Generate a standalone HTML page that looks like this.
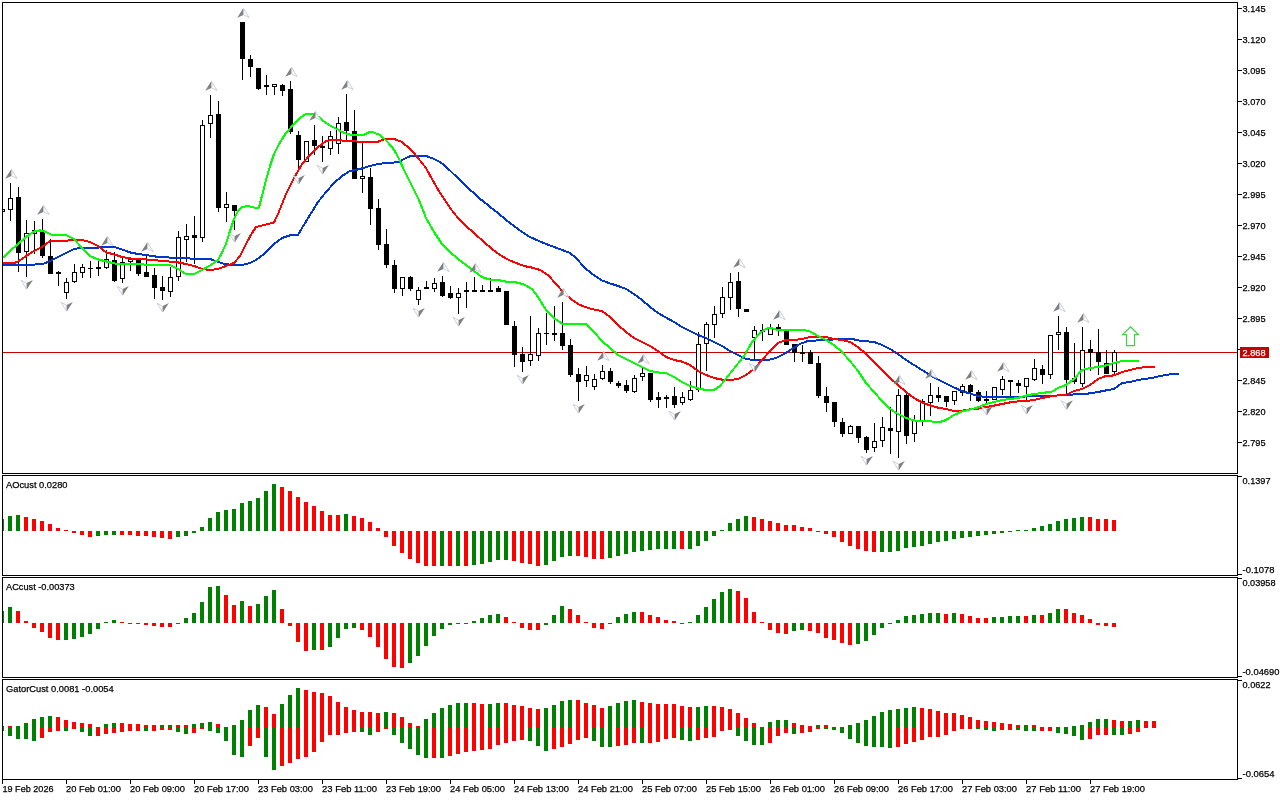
<!DOCTYPE html>
<html><head><meta charset="utf-8"><title>Chart</title>
<style>
html,body{margin:0;padding:0;background:#fff;overflow:hidden}
svg{display:block}
text{font-family:"Liberation Sans",sans-serif;font-size:9.8px;fill:#000;stroke:#000;stroke-width:0.25px}
.c{shape-rendering:crispEdges}
</style></head><body>
<svg width="1280" height="800" viewBox="0 0 1280 800">
<rect width="1280" height="800" fill="#fff"/>
<rect class="c" x="3" y="352" width="1234" height="1" fill="#c80000"/>
<g class="c" fill="#000">
<rect x="3" y="209" width="2" height="3"/><rect x="3" y="210" width="1" height="1" fill="#fff"/>
<rect x="10" y="183" width="1" height="38"/><rect x="8" y="198" width="5" height="12"/><rect x="9" y="199" width="3" height="10" fill="#fff"/>
<rect x="18" y="187" width="1" height="85"/><rect x="16" y="197" width="5" height="56"/>
<rect x="26" y="220" width="1" height="57"/><rect x="24" y="233" width="5" height="19"/><rect x="25" y="234" width="3" height="17" fill="#fff"/>
<rect x="34" y="221" width="1" height="33"/><rect x="32" y="230" width="5" height="4"/><rect x="33" y="231" width="3" height="2" fill="#fff"/>
<rect x="42" y="219" width="1" height="39"/><rect x="40" y="232" width="5" height="24"/>
<rect x="50" y="239" width="1" height="35"/><rect x="48" y="256" width="5" height="18"/>
<rect x="58" y="271" width="1" height="15"/><rect x="56" y="272" width="5" height="2"/>
<rect x="66" y="278" width="1" height="21"/><rect x="64" y="282" width="5" height="11"/><rect x="65" y="283" width="3" height="9" fill="#fff"/>
<rect x="74" y="264" width="1" height="19"/><rect x="72" y="272" width="5" height="10"/><rect x="73" y="273" width="3" height="8" fill="#fff"/>
<rect x="82" y="264" width="1" height="14"/><rect x="80" y="267" width="5" height="6"/><rect x="81" y="268" width="3" height="4" fill="#fff"/>
<rect x="90" y="261" width="1" height="17"/><rect x="88" y="268" width="5" height="1"/>
<rect x="98" y="260" width="1" height="16"/><rect x="96" y="267" width="5" height="2"/>
<rect x="106" y="250" width="1" height="19"/><rect x="104" y="259" width="5" height="9"/><rect x="105" y="260" width="3" height="7" fill="#fff"/>
<rect x="114" y="252" width="1" height="30"/><rect x="112" y="260" width="5" height="21"/>
<rect x="122" y="258" width="1" height="25"/><rect x="120" y="262" width="5" height="17"/><rect x="121" y="263" width="3" height="15" fill="#fff"/>
<rect x="130" y="258" width="1" height="13"/><rect x="128" y="259" width="5" height="3"/><rect x="129" y="260" width="3" height="1" fill="#fff"/>
<rect x="138" y="259" width="1" height="17"/><rect x="136" y="259" width="5" height="15"/>
<rect x="146" y="256" width="1" height="21"/><rect x="144" y="272" width="5" height="5"/>
<rect x="154" y="268" width="1" height="31"/><rect x="152" y="275" width="5" height="13"/>
<rect x="162" y="276" width="1" height="24"/><rect x="160" y="287" width="5" height="4"/>
<rect x="170" y="267" width="1" height="30"/><rect x="168" y="277" width="5" height="15"/><rect x="169" y="278" width="3" height="13" fill="#fff"/>
<rect x="178" y="231" width="1" height="50"/><rect x="176" y="237" width="5" height="40"/><rect x="177" y="238" width="3" height="38" fill="#fff"/>
<rect x="186" y="224" width="1" height="38"/><rect x="184" y="236" width="5" height="4"/><rect x="185" y="237" width="3" height="2" fill="#fff"/>
<rect x="194" y="216" width="1" height="48"/><rect x="192" y="235" width="5" height="3"/>
<rect x="202" y="120" width="1" height="122"/><rect x="200" y="125" width="5" height="113"/><rect x="201" y="126" width="3" height="111" fill="#fff"/>
<rect x="210" y="95" width="1" height="43"/><rect x="208" y="115" width="5" height="9"/><rect x="209" y="116" width="3" height="7" fill="#fff"/>
<rect x="218" y="101" width="1" height="111"/><rect x="216" y="114" width="5" height="94"/>
<rect x="226" y="192" width="1" height="30"/><rect x="224" y="204" width="5" height="4"/><rect x="225" y="205" width="3" height="2" fill="#fff"/>
<rect x="234" y="205" width="1" height="25"/><rect x="232" y="205" width="5" height="6"/>
<rect x="242" y="22" width="1" height="58"/><rect x="240" y="22" width="5" height="37"/>
<rect x="250" y="55" width="1" height="22"/><rect x="248" y="59" width="5" height="8"/>
<rect x="258" y="68" width="1" height="22"/><rect x="256" y="68" width="5" height="21"/>
<rect x="266" y="75" width="1" height="20"/><rect x="264" y="85" width="5" height="2"/>
<rect x="274" y="84" width="1" height="11"/><rect x="272" y="84" width="5" height="3"/><rect x="273" y="85" width="3" height="1" fill="#fff"/>
<rect x="282" y="84" width="1" height="12"/><rect x="280" y="85" width="5" height="6"/>
<rect x="290" y="81" width="1" height="53"/><rect x="288" y="89" width="5" height="43"/>
<rect x="298" y="131" width="1" height="41"/><rect x="296" y="135" width="5" height="25"/>
<rect x="306" y="141" width="1" height="21"/><rect x="304" y="141" width="5" height="21"/><rect x="305" y="142" width="3" height="19" fill="#fff"/>
<rect x="314" y="125" width="1" height="30"/><rect x="312" y="140" width="5" height="6"/>
<rect x="322" y="136" width="1" height="26"/><rect x="320" y="146" width="5" height="2"/>
<rect x="330" y="131" width="1" height="24"/><rect x="328" y="136" width="5" height="13"/><rect x="329" y="137" width="3" height="11" fill="#fff"/>
<rect x="338" y="117" width="1" height="37"/><rect x="336" y="123" width="5" height="21"/><rect x="337" y="124" width="3" height="19" fill="#fff"/>
<rect x="346" y="94" width="1" height="46"/><rect x="344" y="122" width="5" height="9"/>
<rect x="354" y="110" width="1" height="69"/><rect x="352" y="131" width="5" height="48"/>
<rect x="362" y="143" width="1" height="50"/><rect x="360" y="176" width="5" height="3"/><rect x="361" y="177" width="3" height="1" fill="#fff"/>
<rect x="370" y="168" width="1" height="57"/><rect x="368" y="177" width="5" height="32"/>
<rect x="378" y="199" width="1" height="51"/><rect x="376" y="208" width="5" height="37"/>
<rect x="386" y="229" width="1" height="39"/><rect x="384" y="244" width="5" height="21"/>
<rect x="394" y="260" width="1" height="33"/><rect x="392" y="265" width="5" height="24"/>
<rect x="402" y="277" width="1" height="19"/><rect x="400" y="277" width="5" height="12"/><rect x="401" y="278" width="3" height="10" fill="#fff"/>
<rect x="410" y="276" width="1" height="15"/><rect x="408" y="277" width="5" height="12"/>
<rect x="418" y="287" width="1" height="18"/><rect x="416" y="290" width="5" height="10"/><rect x="417" y="291" width="3" height="8" fill="#fff"/>
<rect x="426" y="281" width="1" height="8"/><rect x="424" y="287" width="5" height="2"/>
<rect x="434" y="278" width="1" height="14"/><rect x="432" y="283" width="5" height="6"/><rect x="433" y="284" width="3" height="4" fill="#fff"/>
<rect x="442" y="276" width="1" height="21"/><rect x="440" y="282" width="5" height="14"/>
<rect x="450" y="286" width="1" height="13"/><rect x="448" y="293" width="5" height="5"/>
<rect x="458" y="288" width="1" height="26"/><rect x="456" y="293" width="5" height="5"/><rect x="457" y="294" width="3" height="3" fill="#fff"/>
<rect x="466" y="282" width="1" height="26"/><rect x="464" y="290" width="5" height="2"/>
<rect x="474" y="277" width="1" height="15"/><rect x="472" y="290" width="5" height="2"/>
<rect x="482" y="285" width="1" height="7"/><rect x="480" y="290" width="5" height="2"/>
<rect x="490" y="278" width="1" height="14"/><rect x="488" y="290" width="5" height="2"/>
<rect x="498" y="286" width="1" height="6"/><rect x="496" y="288" width="5" height="4"/>
<rect x="506" y="291" width="1" height="34"/><rect x="504" y="291" width="5" height="34"/>
<rect x="514" y="321" width="1" height="46"/><rect x="512" y="326" width="5" height="29"/>
<rect x="522" y="347" width="1" height="25"/><rect x="520" y="354" width="5" height="8"/>
<rect x="530" y="316" width="1" height="50"/><rect x="528" y="354" width="5" height="7"/><rect x="529" y="355" width="3" height="5" fill="#fff"/>
<rect x="538" y="328" width="1" height="33"/><rect x="536" y="333" width="5" height="23"/><rect x="537" y="334" width="3" height="21" fill="#fff"/>
<rect x="546" y="313" width="1" height="32"/><rect x="544" y="333" width="5" height="1"/>
<rect x="554" y="306" width="1" height="35"/><rect x="552" y="333" width="5" height="2"/>
<rect x="562" y="302" width="1" height="48"/><rect x="560" y="333" width="5" height="13"/>
<rect x="570" y="339" width="1" height="38"/><rect x="568" y="345" width="5" height="30"/>
<rect x="578" y="368" width="1" height="33"/><rect x="576" y="374" width="5" height="8"/>
<rect x="586" y="366" width="1" height="21"/><rect x="584" y="375" width="5" height="6"/><rect x="585" y="376" width="3" height="4" fill="#fff"/>
<rect x="594" y="374" width="1" height="16"/><rect x="592" y="379" width="5" height="8"/><rect x="593" y="380" width="3" height="6" fill="#fff"/>
<rect x="602" y="365" width="1" height="15"/><rect x="600" y="371" width="5" height="8"/><rect x="601" y="372" width="3" height="6" fill="#fff"/>
<rect x="610" y="368" width="1" height="16"/><rect x="608" y="371" width="5" height="11"/>
<rect x="618" y="381" width="1" height="7"/><rect x="616" y="383" width="5" height="3"/>
<rect x="626" y="380" width="1" height="13"/><rect x="624" y="385" width="5" height="6"/>
<rect x="634" y="375" width="1" height="18"/><rect x="632" y="378" width="5" height="14"/><rect x="633" y="379" width="3" height="12" fill="#fff"/>
<rect x="642" y="368" width="1" height="13"/><rect x="640" y="373" width="5" height="4"/><rect x="641" y="374" width="3" height="2" fill="#fff"/>
<rect x="650" y="373" width="1" height="29"/><rect x="648" y="373" width="5" height="27"/>
<rect x="658" y="392" width="1" height="16"/><rect x="656" y="397" width="5" height="3"/>
<rect x="666" y="395" width="1" height="13"/><rect x="664" y="397" width="5" height="2"/>
<rect x="674" y="387" width="1" height="21"/><rect x="672" y="396" width="5" height="9"/>
<rect x="682" y="392" width="1" height="13"/><rect x="680" y="397" width="5" height="6"/><rect x="681" y="398" width="3" height="4" fill="#fff"/>
<rect x="690" y="381" width="1" height="20"/><rect x="688" y="390" width="5" height="10"/><rect x="689" y="391" width="3" height="8" fill="#fff"/>
<rect x="698" y="332" width="1" height="60"/><rect x="696" y="344" width="5" height="46"/><rect x="697" y="345" width="3" height="44" fill="#fff"/>
<rect x="706" y="322" width="1" height="49"/><rect x="704" y="324" width="5" height="20"/><rect x="705" y="325" width="3" height="18" fill="#fff"/>
<rect x="714" y="306" width="1" height="32"/><rect x="712" y="314" width="5" height="11"/><rect x="713" y="315" width="3" height="9" fill="#fff"/>
<rect x="722" y="287" width="1" height="31"/><rect x="720" y="297" width="5" height="17"/><rect x="721" y="298" width="3" height="15" fill="#fff"/>
<rect x="730" y="273" width="1" height="37"/><rect x="728" y="282" width="5" height="16"/><rect x="729" y="283" width="3" height="14" fill="#fff"/>
<rect x="738" y="272" width="1" height="45"/><rect x="736" y="281" width="5" height="28"/>
<rect x="746" y="309" width="1" height="3"/><rect x="744" y="309" width="5" height="3"/>
<rect x="754" y="326" width="1" height="34"/><rect x="752" y="330" width="5" height="8"/><rect x="753" y="331" width="3" height="6" fill="#fff"/>
<rect x="762" y="324" width="1" height="17"/><rect x="760" y="330" width="5" height="2"/>
<rect x="770" y="324" width="1" height="11"/><rect x="768" y="327" width="5" height="8"/><rect x="769" y="328" width="3" height="6" fill="#fff"/>
<rect x="778" y="324" width="1" height="12"/><rect x="776" y="327" width="5" height="3"/>
<rect x="786" y="330" width="1" height="15"/><rect x="784" y="330" width="5" height="15"/>
<rect x="794" y="344" width="1" height="18"/><rect x="792" y="344" width="5" height="9"/>
<rect x="802" y="345" width="1" height="17"/><rect x="800" y="352" width="5" height="2"/>
<rect x="810" y="350" width="1" height="14"/><rect x="808" y="352" width="5" height="12"/>
<rect x="818" y="356" width="1" height="42"/><rect x="816" y="363" width="5" height="33"/>
<rect x="826" y="387" width="1" height="25"/><rect x="824" y="396" width="5" height="7"/>
<rect x="834" y="402" width="1" height="25"/><rect x="832" y="402" width="5" height="20"/>
<rect x="842" y="418" width="1" height="19"/><rect x="840" y="422" width="5" height="12"/>
<rect x="850" y="425" width="1" height="9"/><rect x="848" y="426" width="5" height="8"/><rect x="849" y="427" width="3" height="6" fill="#fff"/>
<rect x="858" y="426" width="1" height="17"/><rect x="856" y="426" width="5" height="12"/>
<rect x="866" y="436" width="1" height="17"/><rect x="864" y="437" width="5" height="13"/>
<rect x="874" y="423" width="1" height="29"/><rect x="872" y="441" width="5" height="7"/><rect x="873" y="442" width="3" height="5" fill="#fff"/>
<rect x="882" y="417" width="1" height="30"/><rect x="880" y="427" width="5" height="14"/><rect x="881" y="428" width="3" height="12" fill="#fff"/>
<rect x="890" y="407" width="1" height="47"/><rect x="888" y="428" width="5" height="3"/>
<rect x="898" y="389" width="1" height="69"/><rect x="896" y="395" width="5" height="37"/><rect x="897" y="396" width="3" height="35" fill="#fff"/>
<rect x="906" y="393" width="1" height="51"/><rect x="904" y="395" width="5" height="41"/>
<rect x="914" y="415" width="1" height="27"/><rect x="912" y="420" width="5" height="14"/><rect x="913" y="421" width="3" height="12" fill="#fff"/>
<rect x="922" y="399" width="1" height="27"/><rect x="920" y="401" width="5" height="20"/><rect x="921" y="402" width="3" height="18" fill="#fff"/>
<rect x="930" y="383" width="1" height="33"/><rect x="928" y="395" width="5" height="8"/><rect x="929" y="396" width="3" height="6" fill="#fff"/>
<rect x="938" y="387" width="1" height="15"/><rect x="936" y="395" width="5" height="3"/>
<rect x="946" y="396" width="1" height="11"/><rect x="944" y="396" width="5" height="6"/>
<rect x="954" y="391" width="1" height="14"/><rect x="952" y="391" width="5" height="10"/><rect x="953" y="392" width="3" height="8" fill="#fff"/>
<rect x="962" y="384" width="1" height="12"/><rect x="960" y="386" width="5" height="7"/><rect x="961" y="387" width="3" height="5" fill="#fff"/>
<rect x="970" y="384" width="1" height="17"/><rect x="968" y="385" width="5" height="7"/>
<rect x="978" y="390" width="1" height="12"/><rect x="976" y="392" width="5" height="9"/>
<rect x="986" y="391" width="1" height="12"/><rect x="984" y="399" width="5" height="2"/>
<rect x="994" y="387" width="1" height="13"/><rect x="992" y="387" width="5" height="13"/><rect x="993" y="388" width="3" height="11" fill="#fff"/>
<rect x="1002" y="376" width="1" height="19"/><rect x="1000" y="379" width="5" height="11"/><rect x="1001" y="380" width="3" height="9" fill="#fff"/>
<rect x="1010" y="380" width="1" height="17"/><rect x="1008" y="380" width="5" height="2"/>
<rect x="1018" y="380" width="1" height="13"/><rect x="1016" y="383" width="5" height="3"/>
<rect x="1026" y="378" width="1" height="24"/><rect x="1024" y="378" width="5" height="9"/><rect x="1025" y="379" width="3" height="7" fill="#fff"/>
<rect x="1034" y="359" width="1" height="22"/><rect x="1032" y="368" width="5" height="12"/><rect x="1033" y="369" width="3" height="10" fill="#fff"/>
<rect x="1042" y="365" width="1" height="19"/><rect x="1040" y="369" width="5" height="6"/>
<rect x="1050" y="335" width="1" height="44"/><rect x="1048" y="335" width="5" height="40"/><rect x="1049" y="336" width="3" height="38" fill="#fff"/>
<rect x="1058" y="316" width="1" height="34"/><rect x="1056" y="332" width="5" height="3"/><rect x="1057" y="333" width="3" height="1" fill="#fff"/>
<rect x="1066" y="327" width="1" height="69"/><rect x="1064" y="332" width="5" height="48"/>
<rect x="1074" y="343" width="1" height="41"/><rect x="1072" y="378" width="5" height="4"/>
<rect x="1082" y="327" width="1" height="60"/><rect x="1080" y="350" width="5" height="34"/><rect x="1081" y="351" width="3" height="32" fill="#fff"/>
<rect x="1090" y="340" width="1" height="31"/><rect x="1088" y="349" width="5" height="4"/>
<rect x="1098" y="329" width="1" height="46"/><rect x="1096" y="352" width="5" height="10"/>
<rect x="1106" y="350" width="1" height="24"/><rect x="1104" y="363" width="5" height="11"/>
<rect x="1114" y="350" width="1" height="24"/><rect x="1112" y="352" width="5" height="20"/><rect x="1113" y="353" width="3" height="18" fill="#fff"/>
</g>
<polyline points="3.0,265.0 42.0,264.4 50.0,261.0 58.0,257.0 66.0,253.0 74.0,249.0 80.0,248.0 96.0,247.6 114.0,247.0 122.0,249.4 130.0,252.4 138.0,254.0 146.0,255.0 154.0,256.4 170.0,257.6 186.0,258.4 210.0,259.0 218.0,262.0 226.0,264.4 242.0,265.0 250.0,263.0 256.0,260.0 264.0,254.0 274.0,244.0 282.0,238.0 290.0,235.4 298.0,235.0 302.0,228.0 310.0,215.0 318.0,202.0 326.0,192.0 334.0,183.0 342.0,176.0 350.0,171.0 360.0,169.0 364.0,167.8 370.0,166.0 378.0,164.0 386.0,163.0 394.0,162.5 400.0,161.5 404.0,159.0 408.0,157.0 411.0,156.0 426.0,156.0 430.0,157.5 434.0,159.0 438.0,161.0 442.0,163.5 446.0,167.0 450.0,170.5 454.0,174.5 458.0,178.0 462.0,182.0 466.0,186.0 470.0,190.0 474.0,193.0 478.0,197.0 481.0,200.0 482.0,200.0 490.0,207.0 498.0,213.0 506.0,220.0 514.0,226.0 522.0,232.0 530.0,237.0 538.0,240.6 546.0,244.0 554.0,247.0 562.0,250.0 570.0,253.0 576.0,258.0 584.0,267.0 592.0,274.0 602.0,280.4 610.0,283.4 618.0,286.0 626.0,289.0 634.0,294.0 642.0,300.0 650.0,307.0 658.0,313.0 666.0,317.6 674.0,322.0 682.0,327.0 690.0,331.0 698.0,335.0 706.0,338.0 714.0,342.0 722.0,346.0 730.0,351.0 738.0,355.0 746.0,359.0 754.0,360.0 768.0,360.0 776.0,358.0 784.0,354.0 792.0,349.0 800.0,344.0 808.0,341.0 818.0,340.4 826.0,340.0 834.0,339.4 854.0,339.4 858.0,340.4 874.0,342.0 882.0,345.0 890.0,349.0 898.0,354.0 906.0,360.0 914.0,365.0 922.0,370.0 930.0,375.0 938.0,379.4 946.0,383.4 954.0,387.4 962.0,391.0 970.0,393.6 978.0,396.0 986.0,397.0 1002.0,397.0 1018.0,397.0 1026.0,396.4 1042.0,396.0 1050.0,395.6 1066.0,395.4 1074.0,394.4 1082.0,394.0 1090.0,393.4 1098.0,392.0 1106.0,390.4 1114.0,389.0 1122.0,383.0 1130.0,382.0 1138.0,380.0 1146.0,378.8 1152.0,378.0 1156.0,377.0 1160.0,376.0 1166.0,375.0 1172.0,374.0 1179.0,374.0" fill="none" stroke="#0036cc" stroke-width="2" stroke-linejoin="round" class="c"/>
<polyline points="3.0,263.4 14.0,263.0 18.0,261.6 26.0,256.0 34.0,251.0 42.0,247.0 50.0,241.0 66.0,240.6 82.0,240.0 90.0,242.0 98.0,246.0 106.0,252.4 114.0,254.4 122.0,257.0 130.0,258.4 138.0,259.0 146.0,259.4 154.0,260.0 162.0,261.0 170.0,261.6 178.0,262.4 186.0,264.0 194.0,266.0 202.0,269.0 210.0,270.0 218.0,269.0 226.0,266.0 234.0,263.0 240.0,256.0 246.0,244.0 252.0,233.0 256.0,227.0 274.0,222.4 278.0,214.0 286.0,194.0 294.0,178.0 302.0,164.0 310.0,155.0 318.0,147.0 326.0,141.0 332.0,140.0 352.0,141.0 360.0,141.8 378.0,141.8 382.0,140.0 386.0,139.0 394.0,139.0 398.0,140.5 402.0,142.0 406.0,145.5 410.0,149.0 414.0,153.0 418.0,158.0 422.0,163.0 426.0,168.0 430.0,175.5 434.0,182.5 438.0,189.5 442.0,196.0 445.0,200.0 450.0,208.0 458.0,218.0 466.0,226.0 474.0,233.0 484.0,242.0 492.0,249.0 500.0,255.0 508.0,259.6 516.0,263.0 524.0,266.0 532.0,267.6 540.0,270.0 548.0,275.0 556.0,284.0 564.0,293.0 572.0,300.0 580.0,305.0 588.0,308.0 596.0,310.0 602.0,311.0 610.0,317.0 618.0,325.0 626.0,332.0 634.0,338.0 642.0,342.0 650.0,346.0 658.0,351.0 666.0,357.0 674.0,360.0 682.0,361.6 690.0,365.0 698.0,371.0 706.0,375.0 714.0,378.0 722.0,379.6 730.0,380.0 738.0,379.0 746.0,375.0 754.0,369.0 762.0,360.0 770.0,351.0 778.0,343.0 786.0,340.0 794.0,340.0 802.0,339.0 810.0,337.0 818.0,336.6 826.0,337.0 834.0,339.0 842.0,340.0 850.0,342.0 858.0,347.0 866.0,354.0 874.0,362.0 882.0,370.0 890.0,378.0 898.0,385.0 906.0,392.0 914.0,398.0 922.0,402.4 930.0,405.4 938.0,407.6 946.0,409.0 954.0,411.0 962.0,410.6 970.0,409.4 978.0,408.6 986.0,407.0 994.0,405.6 1002.0,404.0 1010.0,402.4 1018.0,401.4 1026.0,401.0 1034.0,400.0 1042.0,398.0 1050.0,396.4 1058.0,395.4 1066.0,395.0 1074.0,391.0 1082.0,389.0 1090.0,385.0 1098.0,379.0 1106.0,376.0 1114.0,375.4 1122.0,372.0 1130.0,370.0 1138.0,368.0 1146.0,367.0 1155.0,366.6" fill="none" stroke="#ff0000" stroke-width="2" stroke-linejoin="round" class="c"/>
<polyline points="3.0,258.0 10.0,251.0 18.0,244.0 26.0,237.0 34.0,231.6 40.0,230.4 45.0,231.6 51.0,234.6 66.0,235.0 74.0,239.0 82.0,248.0 90.0,256.0 98.0,259.4 106.0,261.4 114.0,263.4 122.0,264.0 138.0,264.4 170.0,265.0 178.0,269.0 186.0,274.0 194.0,274.0 202.0,270.0 210.0,265.5 218.0,260.0 222.0,252.5 226.0,244.0 230.0,231.0 234.0,219.0 238.0,211.0 242.0,207.0 248.0,206.0 256.0,208.0 259.0,207.6 266.0,180.0 270.0,166.0 274.0,154.0 278.0,146.0 282.0,139.0 286.0,133.0 290.0,128.5 294.0,124.0 298.0,120.0 302.0,116.5 306.0,113.8 314.0,113.5 318.0,116.5 322.0,120.0 326.0,123.0 330.0,125.5 334.0,127.5 338.0,129.5 342.0,132.0 346.0,133.5 350.0,134.5 355.0,135.0 360.0,135.0 364.0,135.0 367.0,133.0 370.0,132.0 373.0,132.0 376.0,133.5 380.0,135.0 384.0,138.5 388.0,142.5 392.0,147.0 396.0,153.0 400.0,161.0 404.0,170.0 408.0,178.0 412.0,186.0 416.0,194.0 419.0,200.0 426.0,218.0 434.0,232.0 442.0,244.0 450.0,252.0 458.0,259.0 466.0,265.0 474.0,271.0 482.0,277.0 490.0,279.6 498.0,280.0 506.0,281.6 516.0,282.4 524.0,284.4 532.0,289.0 538.0,297.0 546.0,310.0 554.0,318.0 562.0,323.6 566.0,324.0 586.0,324.0 594.0,332.0 602.0,341.0 610.0,348.0 618.0,355.0 626.0,359.0 634.0,363.0 642.0,367.0 650.0,371.0 658.0,372.4 666.0,373.0 674.0,377.0 682.0,382.0 690.0,386.0 698.0,388.4 706.0,390.0 714.0,390.0 720.0,386.0 728.0,376.0 736.0,366.0 744.0,356.0 752.0,342.0 760.0,333.0 764.0,330.0 768.0,328.2 772.0,328.0 775.0,329.2 778.0,330.0 802.0,330.0 806.0,330.5 810.0,331.5 818.0,336.0 826.0,340.0 834.0,345.0 842.0,352.0 850.0,361.0 858.0,371.0 866.0,383.0 874.0,392.0 882.0,401.0 890.0,409.0 898.0,414.0 906.0,418.0 914.0,420.4 922.0,421.0 930.0,421.4 940.0,422.0 946.0,420.0 954.0,415.0 962.0,411.4 970.0,409.6 978.0,407.4 986.0,404.0 994.0,402.0 1002.0,400.0 1010.0,399.0 1018.0,398.0 1026.0,395.6 1034.0,394.0 1042.0,393.0 1052.0,391.6 1058.0,388.0 1066.0,385.0 1074.0,379.0 1082.0,370.0 1090.0,368.0 1098.0,367.0 1106.0,365.4 1114.0,363.0 1122.0,361.0 1139.0,361.0" fill="none" stroke="#00ff00" stroke-width="2" stroke-linejoin="round" class="c"/>
<g>
<path d="M11.4,169.1 L5.2,178.8 L11.4,176.0 Z" fill="#808080"/><path d="M11.7,169.7 L17.1,178.5 L11.7,176.0 Z" fill="#fdfdfd" stroke="#b8bcc8" stroke-width="0.7"/>
<path d="M43.4,205.1 L37.2,214.8 L43.4,212.0 Z" fill="#808080"/><path d="M43.7,205.7 L49.1,214.5 L43.7,212.0 Z" fill="#fdfdfd" stroke="#b8bcc8" stroke-width="0.7"/>
<path d="M107.4,236.1 L101.2,245.8 L107.4,243.0 Z" fill="#808080"/><path d="M107.7,236.7 L113.1,245.5 L107.7,243.0 Z" fill="#fdfdfd" stroke="#b8bcc8" stroke-width="0.7"/>
<path d="M147.4,242.1 L141.2,251.8 L147.4,249.0 Z" fill="#808080"/><path d="M147.7,242.7 L153.1,251.5 L147.7,249.0 Z" fill="#fdfdfd" stroke="#b8bcc8" stroke-width="0.7"/>
<path d="M211.4,81.1 L205.2,90.8 L211.4,88.0 Z" fill="#808080"/><path d="M211.7,81.7 L217.1,90.5 L211.7,88.0 Z" fill="#fdfdfd" stroke="#b8bcc8" stroke-width="0.7"/>
<path d="M243.4,8.1 L237.2,17.8 L243.4,15.0 Z" fill="#808080"/><path d="M243.7,8.7 L249.1,17.5 L243.7,15.0 Z" fill="#fdfdfd" stroke="#b8bcc8" stroke-width="0.7"/>
<path d="M291.4,67.1 L285.2,76.8 L291.4,74.0 Z" fill="#808080"/><path d="M291.7,67.7 L297.1,76.5 L291.7,74.0 Z" fill="#fdfdfd" stroke="#b8bcc8" stroke-width="0.7"/>
<path d="M315.4,111.1 L309.2,120.8 L315.4,118.0 Z" fill="#808080"/><path d="M315.7,111.7 L321.1,120.5 L315.7,118.0 Z" fill="#fdfdfd" stroke="#b8bcc8" stroke-width="0.7"/>
<path d="M347.4,80.1 L341.2,89.8 L347.4,87.0 Z" fill="#808080"/><path d="M347.7,80.7 L353.1,89.5 L347.7,87.0 Z" fill="#fdfdfd" stroke="#b8bcc8" stroke-width="0.7"/>
<path d="M443.4,262.1 L437.2,271.8 L443.4,269.0 Z" fill="#808080"/><path d="M443.7,262.7 L449.1,271.5 L443.7,269.0 Z" fill="#fdfdfd" stroke="#b8bcc8" stroke-width="0.7"/>
<path d="M475.4,263.1 L469.2,272.8 L475.4,270.0 Z" fill="#808080"/><path d="M475.7,263.7 L481.1,272.5 L475.7,270.0 Z" fill="#fdfdfd" stroke="#b8bcc8" stroke-width="0.7"/>
<path d="M563.4,288.1 L557.2,297.8 L563.4,295.0 Z" fill="#808080"/><path d="M563.7,288.7 L569.1,297.5 L563.7,295.0 Z" fill="#fdfdfd" stroke="#b8bcc8" stroke-width="0.7"/>
<path d="M603.4,351.1 L597.2,360.8 L603.4,358.0 Z" fill="#808080"/><path d="M603.7,351.7 L609.1,360.5 L603.7,358.0 Z" fill="#fdfdfd" stroke="#b8bcc8" stroke-width="0.7"/>
<path d="M643.4,354.1 L637.2,363.8 L643.4,361.0 Z" fill="#808080"/><path d="M643.7,354.7 L649.1,363.5 L643.7,361.0 Z" fill="#fdfdfd" stroke="#b8bcc8" stroke-width="0.7"/>
<path d="M739.4,258.1 L733.2,267.8 L739.4,265.0 Z" fill="#808080"/><path d="M739.7,258.7 L745.1,267.5 L739.7,265.0 Z" fill="#fdfdfd" stroke="#b8bcc8" stroke-width="0.7"/>
<path d="M779.4,310.1 L773.2,319.8 L779.4,317.0 Z" fill="#808080"/><path d="M779.7,310.7 L785.1,319.5 L779.7,317.0 Z" fill="#fdfdfd" stroke="#b8bcc8" stroke-width="0.7"/>
<path d="M899.4,375.1 L893.2,384.8 L899.4,382.0 Z" fill="#808080"/><path d="M899.7,375.7 L905.1,384.5 L899.7,382.0 Z" fill="#fdfdfd" stroke="#b8bcc8" stroke-width="0.7"/>
<path d="M931.4,369.1 L925.2,378.8 L931.4,376.0 Z" fill="#808080"/><path d="M931.7,369.7 L937.1,378.5 L931.7,376.0 Z" fill="#fdfdfd" stroke="#b8bcc8" stroke-width="0.7"/>
<path d="M971.4,370.1 L965.2,379.8 L971.4,377.0 Z" fill="#808080"/><path d="M971.7,370.7 L977.1,379.5 L971.7,377.0 Z" fill="#fdfdfd" stroke="#b8bcc8" stroke-width="0.7"/>
<path d="M1003.4,362.1 L997.2,371.8 L1003.4,369.0 Z" fill="#808080"/><path d="M1003.7,362.7 L1009.1,371.5 L1003.7,369.0 Z" fill="#fdfdfd" stroke="#b8bcc8" stroke-width="0.7"/>
<path d="M1059.4,302.1 L1053.2,311.8 L1059.4,309.0 Z" fill="#808080"/><path d="M1059.7,302.7 L1065.1,311.5 L1059.7,309.0 Z" fill="#fdfdfd" stroke="#b8bcc8" stroke-width="0.7"/>
<path d="M1083.4,313.1 L1077.2,322.8 L1083.4,320.0 Z" fill="#808080"/><path d="M1083.7,313.7 L1089.1,322.5 L1083.7,320.0 Z" fill="#fdfdfd" stroke="#b8bcc8" stroke-width="0.7"/>
<path d="M26.7,289.6 L32.9,279.9 L26.7,283.0 Z" fill="#808080"/><path d="M26.4,289.0 L21.1,280.3 L26.4,283.0 Z" fill="#fdfdfd" stroke="#b8bcc8" stroke-width="0.7"/>
<path d="M66.7,311.6 L72.9,301.9 L66.7,305.0 Z" fill="#808080"/><path d="M66.4,311.0 L61.1,302.3 L66.4,305.0 Z" fill="#fdfdfd" stroke="#b8bcc8" stroke-width="0.7"/>
<path d="M122.7,295.6 L128.9,285.9 L122.7,289.0 Z" fill="#808080"/><path d="M122.4,295.0 L117.1,286.3 L122.4,289.0 Z" fill="#fdfdfd" stroke="#b8bcc8" stroke-width="0.7"/>
<path d="M162.7,312.6 L168.9,302.9 L162.7,306.0 Z" fill="#808080"/><path d="M162.4,312.0 L157.1,303.3 L162.4,306.0 Z" fill="#fdfdfd" stroke="#b8bcc8" stroke-width="0.7"/>
<path d="M234.7,242.6 L240.9,232.9 L234.7,236.0 Z" fill="#808080"/><path d="M234.4,242.0 L229.1,233.3 L234.4,236.0 Z" fill="#fdfdfd" stroke="#b8bcc8" stroke-width="0.7"/>
<path d="M298.7,184.6 L304.9,174.9 L298.7,178.0 Z" fill="#808080"/><path d="M298.4,184.0 L293.1,175.3 L298.4,178.0 Z" fill="#fdfdfd" stroke="#b8bcc8" stroke-width="0.7"/>
<path d="M322.7,174.6 L328.9,164.9 L322.7,168.0 Z" fill="#808080"/><path d="M322.4,174.0 L317.1,165.3 L322.4,168.0 Z" fill="#fdfdfd" stroke="#b8bcc8" stroke-width="0.7"/>
<path d="M418.7,317.6 L424.9,307.9 L418.7,311.0 Z" fill="#808080"/><path d="M418.4,317.0 L413.1,308.3 L418.4,311.0 Z" fill="#fdfdfd" stroke="#b8bcc8" stroke-width="0.7"/>
<path d="M458.7,326.6 L464.9,316.9 L458.7,320.0 Z" fill="#808080"/><path d="M458.4,326.0 L453.1,317.3 L458.4,320.0 Z" fill="#fdfdfd" stroke="#b8bcc8" stroke-width="0.7"/>
<path d="M522.7,384.6 L528.9,374.9 L522.7,378.0 Z" fill="#808080"/><path d="M522.4,384.0 L517.1,375.3 L522.4,378.0 Z" fill="#fdfdfd" stroke="#b8bcc8" stroke-width="0.7"/>
<path d="M578.7,413.6 L584.9,403.9 L578.7,407.0 Z" fill="#808080"/><path d="M578.4,413.0 L573.1,404.3 L578.4,407.0 Z" fill="#fdfdfd" stroke="#b8bcc8" stroke-width="0.7"/>
<path d="M674.7,420.6 L680.9,410.9 L674.7,414.0 Z" fill="#808080"/><path d="M674.4,420.0 L669.1,411.3 L674.4,414.0 Z" fill="#fdfdfd" stroke="#b8bcc8" stroke-width="0.7"/>
<path d="M754.7,372.6 L760.9,362.9 L754.7,366.0 Z" fill="#808080"/><path d="M754.4,372.0 L749.1,363.3 L754.4,366.0 Z" fill="#fdfdfd" stroke="#b8bcc8" stroke-width="0.7"/>
<path d="M866.7,465.6 L872.9,455.9 L866.7,459.0 Z" fill="#808080"/><path d="M866.4,465.0 L861.1,456.3 L866.4,459.0 Z" fill="#fdfdfd" stroke="#b8bcc8" stroke-width="0.7"/>
<path d="M898.7,470.6 L904.9,460.9 L898.7,464.0 Z" fill="#808080"/><path d="M898.4,470.0 L893.1,461.3 L898.4,464.0 Z" fill="#fdfdfd" stroke="#b8bcc8" stroke-width="0.7"/>
<path d="M986.7,415.6 L992.9,405.9 L986.7,409.0 Z" fill="#808080"/><path d="M986.4,415.0 L981.1,406.3 L986.4,409.0 Z" fill="#fdfdfd" stroke="#b8bcc8" stroke-width="0.7"/>
<path d="M1026.7,414.6 L1032.9,404.9 L1026.7,408.0 Z" fill="#808080"/><path d="M1026.4,414.0 L1021.1,405.3 L1026.4,408.0 Z" fill="#fdfdfd" stroke="#b8bcc8" stroke-width="0.7"/>
<path d="M1066.7,410.0 L1072.9,400.3 L1066.7,403.4 Z" fill="#808080"/><path d="M1066.4,409.4 L1061.1,400.7 L1066.4,403.4 Z" fill="#fdfdfd" stroke="#b8bcc8" stroke-width="0.7"/>
</g>
<path d="M1130.5,326.8 L1138.4,334.5 L1134.5,334.5 L1134.5,345.5 L1126.5,345.5 L1126.5,334.5 L1122.6,334.5 Z" fill="none" stroke="#40d240" stroke-width="1.25"/>
<g class="c" fill="#000">
<rect x="2" y="2" width="1236" height="1"/><rect x="2" y="473" width="1236" height="1"/><rect x="2" y="2" width="1" height="472"/><rect x="1237" y="2" width="1" height="472"/>
<rect x="2" y="475" width="1236" height="1"/><rect x="2" y="575" width="1236" height="1"/><rect x="2" y="475" width="1" height="101"/><rect x="1237" y="475" width="1" height="101"/>
<rect x="2" y="577" width="1236" height="1"/><rect x="2" y="677" width="1236" height="1"/><rect x="2" y="577" width="1" height="101"/><rect x="1237" y="577" width="1" height="101"/>
<rect x="2" y="679" width="1236" height="1"/><rect x="2" y="779" width="1236" height="1"/><rect x="2" y="679" width="1" height="101"/><rect x="1237" y="679" width="1" height="101"/>
<rect x="1238" y="8" width="4" height="1"/><rect x="1238" y="39" width="4" height="1"/><rect x="1238" y="70" width="4" height="1"/><rect x="1238" y="101" width="4" height="1"/><rect x="1238" y="132" width="4" height="1"/><rect x="1238" y="163" width="4" height="1"/><rect x="1238" y="194" width="4" height="1"/><rect x="1238" y="225" width="4" height="1"/><rect x="1238" y="256" width="4" height="1"/><rect x="1238" y="287" width="4" height="1"/><rect x="1238" y="318" width="4" height="1"/><rect x="1238" y="349" width="4" height="1"/><rect x="1238" y="380" width="4" height="1"/><rect x="1238" y="411" width="4" height="1"/><rect x="1238" y="442" width="4" height="1"/><rect x="1238" y="476" width="4" height="1"/><rect x="1238" y="574" width="4" height="1"/><rect x="1238" y="578" width="4" height="1"/><rect x="1238" y="676" width="4" height="1"/><rect x="1238" y="680" width="4" height="1"/><rect x="1238" y="778" width="4" height="1"/><rect x="2" y="780" width="1" height="4"/><rect x="66" y="780" width="1" height="4"/><rect x="130" y="780" width="1" height="4"/><rect x="194" y="780" width="1" height="4"/><rect x="258" y="780" width="1" height="4"/><rect x="322" y="780" width="1" height="4"/><rect x="386" y="780" width="1" height="4"/><rect x="450" y="780" width="1" height="4"/><rect x="514" y="780" width="1" height="4"/><rect x="578" y="780" width="1" height="4"/><rect x="642" y="780" width="1" height="4"/><rect x="706" y="780" width="1" height="4"/><rect x="770" y="780" width="1" height="4"/><rect x="834" y="780" width="1" height="4"/><rect x="898" y="780" width="1" height="4"/><rect x="962" y="780" width="1" height="4"/><rect x="1026" y="780" width="1" height="4"/><rect x="1090" y="780" width="1" height="4"/>
</g>
<g class="c">
<rect x="3" y="519" width="1" height="12" fill="#008000"/><rect x="8" y="516" width="4" height="15" fill="#008000"/><rect x="16" y="515" width="4" height="16" fill="#008000"/><rect x="24" y="517" width="4" height="14" fill="#ff0000"/><rect x="32" y="519" width="4" height="12" fill="#ff0000"/><rect x="40" y="521" width="4" height="10" fill="#ff0000"/><rect x="48" y="524" width="4" height="7" fill="#ff0000"/><rect x="56" y="528" width="4" height="3" fill="#ff0000"/><rect x="64" y="530" width="4" height="1" fill="#ff0000"/><rect x="72" y="531" width="4" height="2" fill="#ff0000"/><rect x="80" y="531" width="4" height="4" fill="#ff0000"/><rect x="88" y="531" width="4" height="6" fill="#ff0000"/><rect x="96" y="531" width="4" height="5" fill="#008000"/><rect x="104" y="531" width="4" height="4" fill="#008000"/><rect x="112" y="531" width="4" height="4" fill="#008000"/><rect x="120" y="531" width="4" height="4" fill="#ff0000"/><rect x="128" y="531" width="4" height="4" fill="#ff0000"/><rect x="136" y="531" width="4" height="5" fill="#ff0000"/><rect x="144" y="531" width="4" height="5" fill="#ff0000"/><rect x="152" y="531" width="4" height="6" fill="#ff0000"/><rect x="160" y="531" width="4" height="7" fill="#ff0000"/><rect x="168" y="531" width="4" height="8" fill="#ff0000"/><rect x="176" y="531" width="4" height="6" fill="#008000"/><rect x="184" y="531" width="4" height="5" fill="#008000"/><rect x="192" y="531" width="4" height="2" fill="#008000"/><rect x="200" y="527" width="4" height="4" fill="#008000"/><rect x="208" y="518" width="4" height="13" fill="#008000"/><rect x="216" y="512" width="4" height="19" fill="#008000"/><rect x="224" y="510" width="4" height="21" fill="#008000"/><rect x="232" y="509" width="4" height="22" fill="#008000"/><rect x="240" y="503" width="4" height="28" fill="#008000"/><rect x="248" y="501" width="4" height="30" fill="#008000"/><rect x="256" y="498" width="4" height="33" fill="#008000"/><rect x="264" y="491" width="4" height="40" fill="#008000"/><rect x="272" y="484" width="4" height="47" fill="#008000"/><rect x="280" y="487" width="4" height="44" fill="#ff0000"/><rect x="288" y="491" width="4" height="40" fill="#ff0000"/><rect x="296" y="497" width="4" height="34" fill="#ff0000"/><rect x="304" y="502" width="4" height="29" fill="#ff0000"/><rect x="312" y="506" width="4" height="25" fill="#ff0000"/><rect x="320" y="511" width="4" height="20" fill="#ff0000"/><rect x="328" y="515" width="4" height="16" fill="#ff0000"/><rect x="336" y="515" width="4" height="16" fill="#ff0000"/><rect x="344" y="514" width="4" height="17" fill="#008000"/><rect x="352" y="516" width="4" height="15" fill="#ff0000"/><rect x="360" y="518" width="4" height="13" fill="#ff0000"/><rect x="368" y="522" width="4" height="9" fill="#ff0000"/><rect x="376" y="528" width="4" height="3" fill="#ff0000"/><rect x="384" y="531" width="4" height="6" fill="#ff0000"/><rect x="392" y="531" width="4" height="15" fill="#ff0000"/><rect x="400" y="531" width="4" height="22" fill="#ff0000"/><rect x="408" y="531" width="4" height="28" fill="#ff0000"/><rect x="416" y="531" width="4" height="32" fill="#ff0000"/><rect x="424" y="531" width="4" height="35" fill="#ff0000"/><rect x="432" y="531" width="4" height="35" fill="#ff0000"/><rect x="440" y="531" width="4" height="35" fill="#008000"/><rect x="448" y="531" width="4" height="35" fill="#ff0000"/><rect x="456" y="531" width="4" height="35" fill="#008000"/><rect x="464" y="531" width="4" height="35" fill="#ff0000"/><rect x="472" y="531" width="4" height="34" fill="#008000"/><rect x="480" y="531" width="4" height="33" fill="#008000"/><rect x="488" y="531" width="4" height="31" fill="#008000"/><rect x="496" y="531" width="4" height="29" fill="#008000"/><rect x="504" y="531" width="4" height="29" fill="#008000"/><rect x="512" y="531" width="4" height="30" fill="#ff0000"/><rect x="520" y="531" width="4" height="32" fill="#ff0000"/><rect x="528" y="531" width="4" height="33" fill="#ff0000"/><rect x="536" y="531" width="4" height="35" fill="#ff0000"/><rect x="544" y="531" width="4" height="34" fill="#008000"/><rect x="552" y="531" width="4" height="30" fill="#008000"/><rect x="560" y="531" width="4" height="26" fill="#008000"/><rect x="568" y="531" width="4" height="25" fill="#008000"/><rect x="576" y="531" width="4" height="25" fill="#ff0000"/><rect x="584" y="531" width="4" height="26" fill="#ff0000"/><rect x="592" y="531" width="4" height="28" fill="#ff0000"/><rect x="600" y="531" width="4" height="28" fill="#ff0000"/><rect x="608" y="531" width="4" height="27" fill="#008000"/><rect x="616" y="531" width="4" height="25" fill="#008000"/><rect x="624" y="531" width="4" height="23" fill="#008000"/><rect x="632" y="531" width="4" height="21" fill="#008000"/><rect x="640" y="531" width="4" height="20" fill="#008000"/><rect x="648" y="531" width="4" height="19" fill="#008000"/><rect x="656" y="531" width="4" height="18" fill="#008000"/><rect x="664" y="531" width="4" height="18" fill="#008000"/><rect x="672" y="531" width="4" height="18" fill="#008000"/><rect x="680" y="531" width="4" height="18" fill="#ff0000"/><rect x="688" y="531" width="4" height="18" fill="#008000"/><rect x="696" y="531" width="4" height="15" fill="#008000"/><rect x="704" y="531" width="4" height="10" fill="#008000"/><rect x="712" y="531" width="4" height="5" fill="#008000"/><rect x="720" y="530" width="4" height="1" fill="#008000"/><rect x="728" y="523" width="4" height="8" fill="#008000"/><rect x="736" y="519" width="4" height="12" fill="#008000"/><rect x="744" y="516" width="4" height="15" fill="#008000"/><rect x="752" y="517" width="4" height="14" fill="#ff0000"/><rect x="760" y="519" width="4" height="12" fill="#ff0000"/><rect x="768" y="521" width="4" height="10" fill="#ff0000"/><rect x="776" y="523" width="4" height="8" fill="#ff0000"/><rect x="784" y="525" width="4" height="6" fill="#ff0000"/><rect x="792" y="525" width="4" height="6" fill="#ff0000"/><rect x="800" y="527" width="4" height="4" fill="#ff0000"/><rect x="808" y="528" width="4" height="3" fill="#ff0000"/><rect x="816" y="531" width="4" height="1" fill="#ff0000"/><rect x="824" y="531" width="4" height="3" fill="#ff0000"/><rect x="832" y="531" width="4" height="6" fill="#ff0000"/><rect x="840" y="531" width="4" height="11" fill="#ff0000"/><rect x="848" y="531" width="4" height="15" fill="#ff0000"/><rect x="856" y="531" width="4" height="18" fill="#ff0000"/><rect x="864" y="531" width="4" height="20" fill="#ff0000"/><rect x="872" y="531" width="4" height="21" fill="#ff0000"/><rect x="880" y="531" width="4" height="21" fill="#008000"/><rect x="888" y="531" width="4" height="21" fill="#008000"/><rect x="896" y="531" width="4" height="20" fill="#008000"/><rect x="904" y="531" width="4" height="17" fill="#008000"/><rect x="912" y="531" width="4" height="16" fill="#008000"/><rect x="920" y="531" width="4" height="15" fill="#008000"/><rect x="928" y="531" width="4" height="13" fill="#008000"/><rect x="936" y="531" width="4" height="11" fill="#008000"/><rect x="944" y="531" width="4" height="10" fill="#008000"/><rect x="952" y="531" width="4" height="8" fill="#008000"/><rect x="960" y="531" width="4" height="7" fill="#008000"/><rect x="968" y="531" width="4" height="6" fill="#008000"/><rect x="976" y="531" width="4" height="5" fill="#008000"/><rect x="984" y="531" width="4" height="4" fill="#008000"/><rect x="992" y="531" width="4" height="3" fill="#008000"/><rect x="1000" y="531" width="4" height="2" fill="#008000"/><rect x="1008" y="531" width="4" height="1" fill="#008000"/><rect x="1016" y="530" width="4" height="1" fill="#008000"/><rect x="1024" y="530" width="4" height="1" fill="#008000"/><rect x="1032" y="528" width="4" height="3" fill="#008000"/><rect x="1040" y="526" width="4" height="5" fill="#008000"/><rect x="1048" y="524" width="4" height="7" fill="#008000"/><rect x="1056" y="521" width="4" height="10" fill="#008000"/><rect x="1064" y="519" width="4" height="12" fill="#008000"/><rect x="1072" y="518" width="4" height="13" fill="#008000"/><rect x="1080" y="517" width="4" height="14" fill="#008000"/><rect x="1088" y="517" width="4" height="14" fill="#ff0000"/><rect x="1096" y="519" width="4" height="12" fill="#ff0000"/><rect x="1104" y="519" width="4" height="12" fill="#ff0000"/><rect x="1112" y="520" width="4" height="11" fill="#ff0000"/>
<rect x="3" y="611" width="1" height="12" fill="#008000"/><rect x="8" y="607" width="4" height="16" fill="#008000"/><rect x="16" y="611" width="4" height="12" fill="#ff0000"/><rect x="24" y="621" width="4" height="2" fill="#ff0000"/><rect x="32" y="623" width="4" height="5" fill="#ff0000"/><rect x="40" y="623" width="4" height="9" fill="#ff0000"/><rect x="48" y="623" width="4" height="15" fill="#ff0000"/><rect x="56" y="623" width="4" height="17" fill="#ff0000"/><rect x="64" y="623" width="4" height="17" fill="#008000"/><rect x="72" y="623" width="4" height="16" fill="#008000"/><rect x="80" y="623" width="4" height="14" fill="#008000"/><rect x="88" y="623" width="4" height="11" fill="#008000"/><rect x="96" y="623" width="4" height="6" fill="#008000"/><rect x="104" y="622" width="4" height="1" fill="#008000"/><rect x="112" y="620" width="4" height="3" fill="#008000"/><rect x="120" y="622" width="4" height="1" fill="#ff0000"/><rect x="128" y="623" width="4" height="1" fill="#ff0000"/><rect x="136" y="623" width="4" height="1" fill="#ff0000"/><rect x="144" y="623" width="4" height="2" fill="#ff0000"/><rect x="152" y="623" width="4" height="3" fill="#ff0000"/><rect x="160" y="623" width="4" height="4" fill="#ff0000"/><rect x="168" y="623" width="4" height="4" fill="#ff0000"/><rect x="176" y="623" width="4" height="1" fill="#008000"/><rect x="184" y="618" width="4" height="5" fill="#008000"/><rect x="192" y="613" width="4" height="10" fill="#008000"/><rect x="200" y="602" width="4" height="21" fill="#008000"/><rect x="208" y="587" width="4" height="36" fill="#008000"/><rect x="216" y="586" width="4" height="37" fill="#008000"/><rect x="224" y="595" width="4" height="28" fill="#ff0000"/><rect x="232" y="605" width="4" height="18" fill="#ff0000"/><rect x="240" y="601" width="4" height="22" fill="#008000"/><rect x="248" y="606" width="4" height="17" fill="#ff0000"/><rect x="256" y="604" width="4" height="19" fill="#008000"/><rect x="264" y="596" width="4" height="27" fill="#008000"/><rect x="272" y="590" width="4" height="33" fill="#008000"/><rect x="280" y="609" width="4" height="14" fill="#ff0000"/><rect x="288" y="623" width="4" height="3" fill="#ff0000"/><rect x="296" y="623" width="4" height="19" fill="#ff0000"/><rect x="304" y="623" width="4" height="28" fill="#ff0000"/><rect x="312" y="623" width="4" height="27" fill="#008000"/><rect x="320" y="623" width="4" height="27" fill="#ff0000"/><rect x="328" y="623" width="4" height="24" fill="#008000"/><rect x="336" y="623" width="4" height="15" fill="#008000"/><rect x="344" y="623" width="4" height="6" fill="#008000"/><rect x="352" y="623" width="4" height="5" fill="#008000"/><rect x="360" y="623" width="4" height="7" fill="#ff0000"/><rect x="368" y="623" width="4" height="14" fill="#ff0000"/><rect x="376" y="623" width="4" height="24" fill="#ff0000"/><rect x="384" y="623" width="4" height="36" fill="#ff0000"/><rect x="392" y="623" width="4" height="44" fill="#ff0000"/><rect x="400" y="623" width="4" height="45" fill="#ff0000"/><rect x="408" y="623" width="4" height="40" fill="#008000"/><rect x="416" y="623" width="4" height="33" fill="#008000"/><rect x="424" y="623" width="4" height="23" fill="#008000"/><rect x="432" y="623" width="4" height="13" fill="#008000"/><rect x="440" y="623" width="4" height="6" fill="#008000"/><rect x="448" y="623" width="4" height="2" fill="#008000"/><rect x="456" y="623" width="4" height="1" fill="#008000"/><rect x="464" y="623" width="4" height="1" fill="#008000"/><rect x="472" y="621" width="4" height="2" fill="#008000"/><rect x="480" y="618" width="4" height="5" fill="#008000"/><rect x="488" y="615" width="4" height="8" fill="#008000"/><rect x="496" y="614" width="4" height="9" fill="#008000"/><rect x="504" y="617" width="4" height="6" fill="#ff0000"/><rect x="512" y="622" width="4" height="1" fill="#ff0000"/><rect x="520" y="623" width="4" height="5" fill="#ff0000"/><rect x="528" y="623" width="4" height="7" fill="#ff0000"/><rect x="536" y="623" width="4" height="7" fill="#ff0000"/><rect x="544" y="623" width="4" height="2" fill="#008000"/><rect x="552" y="615" width="4" height="8" fill="#008000"/><rect x="560" y="606" width="4" height="17" fill="#008000"/><rect x="568" y="609" width="4" height="14" fill="#ff0000"/><rect x="576" y="615" width="4" height="8" fill="#ff0000"/><rect x="584" y="622" width="4" height="1" fill="#ff0000"/><rect x="592" y="623" width="4" height="5" fill="#ff0000"/><rect x="600" y="623" width="4" height="6" fill="#ff0000"/><rect x="608" y="623" width="4" height="1" fill="#008000"/><rect x="616" y="617" width="4" height="6" fill="#008000"/><rect x="624" y="614" width="4" height="9" fill="#008000"/><rect x="632" y="612" width="4" height="11" fill="#008000"/><rect x="640" y="612" width="4" height="11" fill="#ff0000"/><rect x="648" y="615" width="4" height="8" fill="#ff0000"/><rect x="656" y="617" width="4" height="6" fill="#ff0000"/><rect x="664" y="620" width="4" height="3" fill="#ff0000"/><rect x="672" y="621" width="4" height="2" fill="#ff0000"/><rect x="680" y="623" width="4" height="1" fill="#ff0000"/><rect x="688" y="622" width="4" height="1" fill="#008000"/><rect x="696" y="615" width="4" height="8" fill="#008000"/><rect x="704" y="607" width="4" height="16" fill="#008000"/><rect x="712" y="599" width="4" height="24" fill="#008000"/><rect x="720" y="592" width="4" height="31" fill="#008000"/><rect x="728" y="589" width="4" height="34" fill="#008000"/><rect x="736" y="591" width="4" height="32" fill="#ff0000"/><rect x="744" y="598" width="4" height="25" fill="#ff0000"/><rect x="752" y="612" width="4" height="11" fill="#ff0000"/><rect x="760" y="622" width="4" height="1" fill="#ff0000"/><rect x="768" y="623" width="4" height="7" fill="#ff0000"/><rect x="776" y="623" width="4" height="10" fill="#ff0000"/><rect x="784" y="623" width="4" height="11" fill="#ff0000"/><rect x="792" y="623" width="4" height="8" fill="#008000"/><rect x="800" y="623" width="4" height="7" fill="#008000"/><rect x="808" y="623" width="4" height="8" fill="#ff0000"/><rect x="816" y="623" width="4" height="10" fill="#ff0000"/><rect x="824" y="623" width="4" height="15" fill="#ff0000"/><rect x="832" y="623" width="4" height="17" fill="#ff0000"/><rect x="840" y="623" width="4" height="20" fill="#ff0000"/><rect x="848" y="623" width="4" height="22" fill="#ff0000"/><rect x="856" y="623" width="4" height="21" fill="#008000"/><rect x="864" y="623" width="4" height="18" fill="#008000"/><rect x="872" y="623" width="4" height="12" fill="#008000"/><rect x="880" y="623" width="4" height="5" fill="#008000"/><rect x="888" y="623" width="4" height="1" fill="#008000"/><rect x="896" y="620" width="4" height="3" fill="#008000"/><rect x="904" y="616" width="4" height="7" fill="#008000"/><rect x="912" y="615" width="4" height="8" fill="#008000"/><rect x="920" y="614" width="4" height="9" fill="#008000"/><rect x="928" y="613" width="4" height="10" fill="#008000"/><rect x="936" y="613" width="4" height="10" fill="#008000"/><rect x="944" y="614" width="4" height="9" fill="#ff0000"/><rect x="952" y="613" width="4" height="10" fill="#008000"/><rect x="960" y="614" width="4" height="9" fill="#ff0000"/><rect x="968" y="616" width="4" height="7" fill="#ff0000"/><rect x="976" y="618" width="4" height="5" fill="#ff0000"/><rect x="984" y="618" width="4" height="5" fill="#ff0000"/><rect x="992" y="617" width="4" height="6" fill="#008000"/><rect x="1000" y="617" width="4" height="6" fill="#008000"/><rect x="1008" y="616" width="4" height="7" fill="#008000"/><rect x="1016" y="616" width="4" height="7" fill="#008000"/><rect x="1024" y="616" width="4" height="7" fill="#ff0000"/><rect x="1032" y="615" width="4" height="8" fill="#008000"/><rect x="1040" y="615" width="4" height="8" fill="#ff0000"/><rect x="1048" y="613" width="4" height="10" fill="#008000"/><rect x="1056" y="609" width="4" height="14" fill="#008000"/><rect x="1064" y="609" width="4" height="14" fill="#ff0000"/><rect x="1072" y="613" width="4" height="10" fill="#ff0000"/><rect x="1080" y="615" width="4" height="8" fill="#ff0000"/><rect x="1088" y="619" width="4" height="4" fill="#ff0000"/><rect x="1096" y="623" width="4" height="2" fill="#ff0000"/><rect x="1104" y="623" width="4" height="3" fill="#ff0000"/><rect x="1112" y="623" width="4" height="4" fill="#ff0000"/>
<rect x="3" y="726" width="1" height="2" fill="#008000"/><rect x="3" y="728" width="1" height="3" fill="#008000"/><rect x="8" y="726" width="4" height="2" fill="#ff0000"/><rect x="8" y="728" width="4" height="8" fill="#008000"/><rect x="16" y="726" width="4" height="2" fill="#008000"/><rect x="16" y="728" width="4" height="11" fill="#008000"/><rect x="24" y="723" width="4" height="5" fill="#008000"/><rect x="24" y="728" width="4" height="11" fill="#008000"/><rect x="32" y="719" width="4" height="9" fill="#008000"/><rect x="32" y="728" width="4" height="13" fill="#008000"/><rect x="40" y="717" width="4" height="11" fill="#008000"/><rect x="40" y="728" width="4" height="10" fill="#ff0000"/><rect x="48" y="716" width="4" height="12" fill="#008000"/><rect x="48" y="728" width="4" height="4" fill="#ff0000"/><rect x="56" y="717" width="4" height="11" fill="#ff0000"/><rect x="56" y="728" width="4" height="3" fill="#ff0000"/><rect x="64" y="720" width="4" height="8" fill="#ff0000"/><rect x="64" y="728" width="4" height="3" fill="#008000"/><rect x="72" y="722" width="4" height="6" fill="#ff0000"/><rect x="72" y="728" width="4" height="1" fill="#ff0000"/><rect x="80" y="723" width="4" height="5" fill="#ff0000"/><rect x="80" y="728" width="4" height="4" fill="#008000"/><rect x="88" y="724" width="4" height="4" fill="#ff0000"/><rect x="88" y="728" width="4" height="8" fill="#008000"/><rect x="96" y="727" width="4" height="1" fill="#ff0000"/><rect x="96" y="728" width="4" height="8" fill="#ff0000"/><rect x="104" y="724" width="4" height="4" fill="#008000"/><rect x="104" y="728" width="4" height="6" fill="#ff0000"/><rect x="112" y="723" width="4" height="5" fill="#008000"/><rect x="112" y="728" width="4" height="5" fill="#ff0000"/><rect x="120" y="723" width="4" height="5" fill="#ff0000"/><rect x="120" y="728" width="4" height="4" fill="#ff0000"/><rect x="128" y="724" width="4" height="4" fill="#ff0000"/><rect x="128" y="728" width="4" height="3" fill="#ff0000"/><rect x="136" y="724" width="4" height="4" fill="#ff0000"/><rect x="136" y="728" width="4" height="3" fill="#ff0000"/><rect x="144" y="725" width="4" height="3" fill="#ff0000"/><rect x="144" y="728" width="4" height="3" fill="#008000"/><rect x="152" y="725" width="4" height="3" fill="#ff0000"/><rect x="152" y="728" width="4" height="3" fill="#ff0000"/><rect x="160" y="725" width="4" height="3" fill="#008000"/><rect x="160" y="728" width="4" height="2" fill="#ff0000"/><rect x="168" y="725" width="4" height="3" fill="#008000"/><rect x="168" y="728" width="4" height="2" fill="#ff0000"/><rect x="176" y="725" width="4" height="3" fill="#ff0000"/><rect x="176" y="728" width="4" height="4" fill="#008000"/><rect x="184" y="725" width="4" height="3" fill="#ff0000"/><rect x="184" y="728" width="4" height="6" fill="#008000"/><rect x="192" y="724" width="4" height="4" fill="#008000"/><rect x="192" y="728" width="4" height="5" fill="#ff0000"/><rect x="200" y="723" width="4" height="5" fill="#008000"/><rect x="200" y="728" width="4" height="1" fill="#ff0000"/><rect x="208" y="722" width="4" height="6" fill="#008000"/><rect x="208" y="728" width="4" height="3" fill="#008000"/><rect x="216" y="724" width="4" height="4" fill="#ff0000"/><rect x="216" y="728" width="4" height="5" fill="#008000"/><rect x="224" y="727" width="4" height="1" fill="#ff0000"/><rect x="224" y="728" width="4" height="13" fill="#008000"/><rect x="232" y="725" width="4" height="3" fill="#008000"/><rect x="232" y="728" width="4" height="27" fill="#008000"/><rect x="240" y="720" width="4" height="8" fill="#008000"/><rect x="240" y="728" width="4" height="29" fill="#008000"/><rect x="248" y="710" width="4" height="18" fill="#008000"/><rect x="248" y="728" width="4" height="18" fill="#ff0000"/><rect x="256" y="705" width="4" height="23" fill="#008000"/><rect x="256" y="728" width="4" height="10" fill="#ff0000"/><rect x="264" y="707" width="4" height="21" fill="#ff0000"/><rect x="264" y="728" width="4" height="29" fill="#008000"/><rect x="272" y="714" width="4" height="14" fill="#ff0000"/><rect x="272" y="728" width="4" height="42" fill="#008000"/><rect x="280" y="704" width="4" height="24" fill="#008000"/><rect x="280" y="728" width="4" height="38" fill="#ff0000"/><rect x="288" y="695" width="4" height="33" fill="#008000"/><rect x="288" y="728" width="4" height="35" fill="#ff0000"/><rect x="296" y="688" width="4" height="40" fill="#008000"/><rect x="296" y="728" width="4" height="31" fill="#ff0000"/><rect x="304" y="690" width="4" height="38" fill="#ff0000"/><rect x="304" y="728" width="4" height="29" fill="#ff0000"/><rect x="312" y="692" width="4" height="36" fill="#ff0000"/><rect x="312" y="728" width="4" height="24" fill="#ff0000"/><rect x="320" y="693" width="4" height="35" fill="#ff0000"/><rect x="320" y="728" width="4" height="14" fill="#ff0000"/><rect x="328" y="696" width="4" height="32" fill="#ff0000"/><rect x="328" y="728" width="4" height="7" fill="#ff0000"/><rect x="336" y="702" width="4" height="26" fill="#ff0000"/><rect x="336" y="728" width="4" height="7" fill="#ff0000"/><rect x="344" y="707" width="4" height="21" fill="#ff0000"/><rect x="344" y="728" width="4" height="5" fill="#ff0000"/><rect x="352" y="710" width="4" height="18" fill="#ff0000"/><rect x="352" y="728" width="4" height="4" fill="#ff0000"/><rect x="360" y="712" width="4" height="16" fill="#ff0000"/><rect x="360" y="728" width="4" height="4" fill="#008000"/><rect x="368" y="712" width="4" height="16" fill="#ff0000"/><rect x="368" y="728" width="4" height="7" fill="#008000"/><rect x="376" y="713" width="4" height="15" fill="#ff0000"/><rect x="376" y="728" width="4" height="4" fill="#ff0000"/><rect x="384" y="712" width="4" height="16" fill="#008000"/><rect x="384" y="728" width="4" height="1" fill="#ff0000"/><rect x="392" y="713" width="4" height="15" fill="#ff0000"/><rect x="392" y="728" width="4" height="7" fill="#008000"/><rect x="400" y="717" width="4" height="11" fill="#ff0000"/><rect x="400" y="728" width="4" height="15" fill="#008000"/><rect x="408" y="723" width="4" height="5" fill="#ff0000"/><rect x="408" y="728" width="4" height="21" fill="#008000"/><rect x="416" y="726" width="4" height="2" fill="#ff0000"/><rect x="416" y="728" width="4" height="27" fill="#008000"/><rect x="424" y="719" width="4" height="9" fill="#008000"/><rect x="424" y="728" width="4" height="30" fill="#008000"/><rect x="432" y="713" width="4" height="15" fill="#008000"/><rect x="432" y="728" width="4" height="30" fill="#ff0000"/><rect x="440" y="708" width="4" height="20" fill="#008000"/><rect x="440" y="728" width="4" height="30" fill="#008000"/><rect x="448" y="705" width="4" height="23" fill="#008000"/><rect x="448" y="728" width="4" height="28" fill="#ff0000"/><rect x="456" y="703" width="4" height="25" fill="#008000"/><rect x="456" y="728" width="4" height="26" fill="#ff0000"/><rect x="464" y="703" width="4" height="25" fill="#008000"/><rect x="464" y="728" width="4" height="24" fill="#ff0000"/><rect x="472" y="703" width="4" height="25" fill="#ff0000"/><rect x="472" y="728" width="4" height="23" fill="#ff0000"/><rect x="480" y="704" width="4" height="24" fill="#ff0000"/><rect x="480" y="728" width="4" height="22" fill="#ff0000"/><rect x="488" y="704" width="4" height="24" fill="#008000"/><rect x="488" y="728" width="4" height="21" fill="#ff0000"/><rect x="496" y="703" width="4" height="25" fill="#008000"/><rect x="496" y="728" width="4" height="17" fill="#ff0000"/><rect x="504" y="703" width="4" height="25" fill="#ff0000"/><rect x="504" y="728" width="4" height="15" fill="#ff0000"/><rect x="512" y="705" width="4" height="23" fill="#ff0000"/><rect x="512" y="728" width="4" height="13" fill="#ff0000"/><rect x="520" y="706" width="4" height="22" fill="#ff0000"/><rect x="520" y="728" width="4" height="12" fill="#ff0000"/><rect x="528" y="708" width="4" height="20" fill="#ff0000"/><rect x="528" y="728" width="4" height="13" fill="#008000"/><rect x="536" y="709" width="4" height="19" fill="#ff0000"/><rect x="536" y="728" width="4" height="18" fill="#008000"/><rect x="544" y="708" width="4" height="20" fill="#008000"/><rect x="544" y="728" width="4" height="23" fill="#008000"/><rect x="552" y="705" width="4" height="23" fill="#008000"/><rect x="552" y="728" width="4" height="21" fill="#ff0000"/><rect x="560" y="701" width="4" height="27" fill="#008000"/><rect x="560" y="728" width="4" height="19" fill="#ff0000"/><rect x="568" y="700" width="4" height="28" fill="#008000"/><rect x="568" y="728" width="4" height="16" fill="#ff0000"/><rect x="576" y="700" width="4" height="28" fill="#ff0000"/><rect x="576" y="728" width="4" height="12" fill="#ff0000"/><rect x="584" y="703" width="4" height="25" fill="#ff0000"/><rect x="584" y="728" width="4" height="10" fill="#ff0000"/><rect x="592" y="705" width="4" height="23" fill="#ff0000"/><rect x="592" y="728" width="4" height="13" fill="#008000"/><rect x="600" y="708" width="4" height="20" fill="#ff0000"/><rect x="600" y="728" width="4" height="19" fill="#008000"/><rect x="608" y="706" width="4" height="22" fill="#008000"/><rect x="608" y="728" width="4" height="19" fill="#008000"/><rect x="616" y="703" width="4" height="25" fill="#008000"/><rect x="616" y="728" width="4" height="18" fill="#ff0000"/><rect x="624" y="701" width="4" height="27" fill="#008000"/><rect x="624" y="728" width="4" height="17" fill="#ff0000"/><rect x="632" y="700" width="4" height="28" fill="#008000"/><rect x="632" y="728" width="4" height="15" fill="#ff0000"/><rect x="640" y="702" width="4" height="26" fill="#ff0000"/><rect x="640" y="728" width="4" height="15" fill="#008000"/><rect x="648" y="703" width="4" height="25" fill="#ff0000"/><rect x="648" y="728" width="4" height="15" fill="#ff0000"/><rect x="656" y="704" width="4" height="24" fill="#ff0000"/><rect x="656" y="728" width="4" height="14" fill="#ff0000"/><rect x="664" y="704" width="4" height="24" fill="#ff0000"/><rect x="664" y="728" width="4" height="11" fill="#ff0000"/><rect x="672" y="704" width="4" height="24" fill="#ff0000"/><rect x="672" y="728" width="4" height="10" fill="#ff0000"/><rect x="680" y="706" width="4" height="22" fill="#ff0000"/><rect x="680" y="728" width="4" height="12" fill="#008000"/><rect x="688" y="707" width="4" height="21" fill="#ff0000"/><rect x="688" y="728" width="4" height="13" fill="#008000"/><rect x="696" y="707" width="4" height="21" fill="#008000"/><rect x="696" y="728" width="4" height="12" fill="#ff0000"/><rect x="704" y="706" width="4" height="22" fill="#008000"/><rect x="704" y="728" width="4" height="10" fill="#ff0000"/><rect x="712" y="706" width="4" height="22" fill="#ff0000"/><rect x="712" y="728" width="4" height="9" fill="#ff0000"/><rect x="720" y="707" width="4" height="21" fill="#ff0000"/><rect x="720" y="728" width="4" height="3" fill="#ff0000"/><rect x="728" y="709" width="4" height="19" fill="#ff0000"/><rect x="728" y="728" width="4" height="2" fill="#ff0000"/><rect x="736" y="713" width="4" height="15" fill="#ff0000"/><rect x="736" y="728" width="4" height="8" fill="#008000"/><rect x="744" y="718" width="4" height="10" fill="#ff0000"/><rect x="744" y="728" width="4" height="13" fill="#008000"/><rect x="752" y="723" width="4" height="5" fill="#ff0000"/><rect x="752" y="728" width="4" height="17" fill="#008000"/><rect x="760" y="727" width="4" height="1" fill="#ff0000"/><rect x="760" y="728" width="4" height="17" fill="#008000"/><rect x="768" y="722" width="4" height="6" fill="#008000"/><rect x="768" y="728" width="4" height="15" fill="#ff0000"/><rect x="776" y="720" width="4" height="8" fill="#008000"/><rect x="776" y="728" width="4" height="8" fill="#ff0000"/><rect x="784" y="720" width="4" height="8" fill="#008000"/><rect x="784" y="728" width="4" height="5" fill="#ff0000"/><rect x="792" y="723" width="4" height="5" fill="#ff0000"/><rect x="792" y="728" width="4" height="6" fill="#008000"/><rect x="800" y="725" width="4" height="3" fill="#ff0000"/><rect x="800" y="728" width="4" height="5" fill="#ff0000"/><rect x="808" y="726" width="4" height="2" fill="#ff0000"/><rect x="808" y="728" width="4" height="4" fill="#ff0000"/><rect x="816" y="725" width="4" height="3" fill="#008000"/><rect x="816" y="728" width="4" height="1" fill="#ff0000"/><rect x="824" y="725" width="4" height="3" fill="#ff0000"/><rect x="824" y="728" width="4" height="1" fill="#008000"/><rect x="832" y="727" width="4" height="1" fill="#ff0000"/><rect x="832" y="728" width="4" height="2" fill="#008000"/><rect x="840" y="727" width="4" height="1" fill="#008000"/><rect x="840" y="728" width="4" height="5" fill="#008000"/><rect x="848" y="725" width="4" height="3" fill="#008000"/><rect x="848" y="728" width="4" height="11" fill="#008000"/><rect x="856" y="723" width="4" height="5" fill="#008000"/><rect x="856" y="728" width="4" height="15" fill="#008000"/><rect x="864" y="720" width="4" height="8" fill="#008000"/><rect x="864" y="728" width="4" height="18" fill="#008000"/><rect x="872" y="716" width="4" height="12" fill="#008000"/><rect x="872" y="728" width="4" height="19" fill="#008000"/><rect x="880" y="712" width="4" height="16" fill="#008000"/><rect x="880" y="728" width="4" height="19" fill="#008000"/><rect x="888" y="710" width="4" height="18" fill="#008000"/><rect x="888" y="728" width="4" height="20" fill="#008000"/><rect x="896" y="709" width="4" height="19" fill="#008000"/><rect x="896" y="728" width="4" height="19" fill="#ff0000"/><rect x="904" y="708" width="4" height="20" fill="#008000"/><rect x="904" y="728" width="4" height="16" fill="#ff0000"/><rect x="912" y="707" width="4" height="21" fill="#008000"/><rect x="912" y="728" width="4" height="14" fill="#ff0000"/><rect x="920" y="708" width="4" height="20" fill="#ff0000"/><rect x="920" y="728" width="4" height="12" fill="#ff0000"/><rect x="928" y="709" width="4" height="19" fill="#ff0000"/><rect x="928" y="728" width="4" height="9" fill="#ff0000"/><rect x="936" y="711" width="4" height="17" fill="#ff0000"/><rect x="936" y="728" width="4" height="9" fill="#ff0000"/><rect x="944" y="713" width="4" height="15" fill="#ff0000"/><rect x="944" y="728" width="4" height="7" fill="#ff0000"/><rect x="952" y="713" width="4" height="15" fill="#ff0000"/><rect x="952" y="728" width="4" height="3" fill="#ff0000"/><rect x="960" y="715" width="4" height="13" fill="#ff0000"/><rect x="960" y="728" width="4" height="1" fill="#ff0000"/><rect x="968" y="717" width="4" height="11" fill="#ff0000"/><rect x="968" y="728" width="4" height="1" fill="#ff0000"/><rect x="976" y="720" width="4" height="8" fill="#ff0000"/><rect x="976" y="728" width="4" height="1" fill="#008000"/><rect x="984" y="721" width="4" height="7" fill="#ff0000"/><rect x="984" y="728" width="4" height="2" fill="#008000"/><rect x="992" y="722" width="4" height="6" fill="#ff0000"/><rect x="992" y="728" width="4" height="3" fill="#008000"/><rect x="1000" y="723" width="4" height="5" fill="#ff0000"/><rect x="1000" y="728" width="4" height="2" fill="#ff0000"/><rect x="1008" y="724" width="4" height="4" fill="#ff0000"/><rect x="1008" y="728" width="4" height="2" fill="#ff0000"/><rect x="1016" y="725" width="4" height="3" fill="#ff0000"/><rect x="1016" y="728" width="4" height="2" fill="#008000"/><rect x="1024" y="725" width="4" height="3" fill="#008000"/><rect x="1024" y="728" width="4" height="3" fill="#008000"/><rect x="1032" y="725" width="4" height="3" fill="#ff0000"/><rect x="1032" y="728" width="4" height="3" fill="#008000"/><rect x="1040" y="727" width="4" height="1" fill="#ff0000"/><rect x="1040" y="728" width="4" height="3" fill="#ff0000"/><rect x="1048" y="727" width="4" height="1" fill="#ff0000"/><rect x="1048" y="728" width="4" height="3" fill="#ff0000"/><rect x="1056" y="727" width="4" height="1" fill="#ff0000"/><rect x="1056" y="728" width="4" height="5" fill="#008000"/><rect x="1064" y="727" width="4" height="1" fill="#ff0000"/><rect x="1064" y="728" width="4" height="6" fill="#008000"/><rect x="1072" y="726" width="4" height="2" fill="#008000"/><rect x="1072" y="728" width="4" height="8" fill="#008000"/><rect x="1080" y="725" width="4" height="3" fill="#008000"/><rect x="1080" y="728" width="4" height="12" fill="#008000"/><rect x="1088" y="722" width="4" height="6" fill="#008000"/><rect x="1088" y="728" width="4" height="11" fill="#ff0000"/><rect x="1096" y="719" width="4" height="9" fill="#008000"/><rect x="1096" y="728" width="4" height="7" fill="#ff0000"/><rect x="1104" y="719" width="4" height="9" fill="#008000"/><rect x="1104" y="728" width="4" height="7" fill="#ff0000"/><rect x="1112" y="720" width="4" height="8" fill="#ff0000"/><rect x="1112" y="728" width="4" height="7" fill="#008000"/><rect x="1120" y="721" width="4" height="7" fill="#ff0000"/><rect x="1120" y="728" width="4" height="7" fill="#008000"/><rect x="1128" y="721" width="4" height="7" fill="#008000"/><rect x="1128" y="728" width="4" height="6" fill="#ff0000"/><rect x="1136" y="720" width="4" height="8" fill="#008000"/><rect x="1136" y="728" width="4" height="4" fill="#ff0000"/><rect x="1144" y="721" width="4" height="7" fill="#ff0000"/><rect x="1152" y="721" width="4" height="7" fill="#ff0000"/>
</g>
<g>
<text x="1242.5" y="11.5" textLength="23" lengthAdjust="spacingAndGlyphs">3.145</text><text x="1242.5" y="42.5" textLength="23" lengthAdjust="spacingAndGlyphs">3.120</text><text x="1242.5" y="73.5" textLength="23" lengthAdjust="spacingAndGlyphs">3.095</text><text x="1242.5" y="104.5" textLength="23" lengthAdjust="spacingAndGlyphs">3.070</text><text x="1242.5" y="135.5" textLength="23" lengthAdjust="spacingAndGlyphs">3.045</text><text x="1242.5" y="166.5" textLength="23" lengthAdjust="spacingAndGlyphs">3.020</text><text x="1242.5" y="197.5" textLength="23" lengthAdjust="spacingAndGlyphs">2.995</text><text x="1242.5" y="228.5" textLength="23" lengthAdjust="spacingAndGlyphs">2.970</text><text x="1242.5" y="259.5" textLength="23" lengthAdjust="spacingAndGlyphs">2.945</text><text x="1242.5" y="290.5" textLength="23" lengthAdjust="spacingAndGlyphs">2.920</text><text x="1242.5" y="321.5" textLength="23" lengthAdjust="spacingAndGlyphs">2.895</text><text x="1242.5" y="352.5" textLength="23" lengthAdjust="spacingAndGlyphs">2.870</text><text x="1242.5" y="383.5" textLength="23" lengthAdjust="spacingAndGlyphs">2.845</text><text x="1242.5" y="414.5" textLength="23" lengthAdjust="spacingAndGlyphs">2.820</text><text x="1242.5" y="445.5" textLength="23" lengthAdjust="spacingAndGlyphs">2.795</text>
<rect class="c" x="1240" y="347" width="29" height="11" fill="#c80000"/><text x="1242.5" y="355.5" textLength="23" lengthAdjust="spacingAndGlyphs" style="fill:#fff;stroke:#fff">2.868</text>
<text x="1242.5" y="483.5" textLength="28" lengthAdjust="spacingAndGlyphs">0.1397</text><text x="1242.5" y="572.5" textLength="32" lengthAdjust="spacingAndGlyphs">-0.1078</text>
<text x="1242.5" y="585.5" textLength="33" lengthAdjust="spacingAndGlyphs">0.03958</text><text x="1242.5" y="674.5" textLength="37" lengthAdjust="spacingAndGlyphs">-0.04690</text>
<text x="1242.5" y="687.5" textLength="28" lengthAdjust="spacingAndGlyphs">0.0622</text><text x="1242.5" y="776.5" textLength="32" lengthAdjust="spacingAndGlyphs">-0.0654</text>
<text x="6" y="487.5" textLength="61.5" lengthAdjust="spacingAndGlyphs">AOcust 0.0280</text>
<text x="6" y="589.5" textLength="68.7" lengthAdjust="spacingAndGlyphs">ACcust -0.00373</text>
<text x="6" y="691.5" textLength="107.7" lengthAdjust="spacingAndGlyphs">GatorCust 0.0081 -0.0054</text>
<text x="2.5" y="791.5" textLength="51" lengthAdjust="spacingAndGlyphs">19 Feb 2026</text><text x="66" y="791.5" textLength="55" lengthAdjust="spacingAndGlyphs">20 Feb 01:00</text><text x="130" y="791.5" textLength="55" lengthAdjust="spacingAndGlyphs">20 Feb 09:00</text><text x="194" y="791.5" textLength="55" lengthAdjust="spacingAndGlyphs">20 Feb 17:00</text><text x="258" y="791.5" textLength="55" lengthAdjust="spacingAndGlyphs">23 Feb 03:00</text><text x="322" y="791.5" textLength="55" lengthAdjust="spacingAndGlyphs">23 Feb 11:00</text><text x="386" y="791.5" textLength="55" lengthAdjust="spacingAndGlyphs">23 Feb 19:00</text><text x="450" y="791.5" textLength="55" lengthAdjust="spacingAndGlyphs">24 Feb 05:00</text><text x="514" y="791.5" textLength="55" lengthAdjust="spacingAndGlyphs">24 Feb 13:00</text><text x="578" y="791.5" textLength="55" lengthAdjust="spacingAndGlyphs">24 Feb 21:00</text><text x="642" y="791.5" textLength="55" lengthAdjust="spacingAndGlyphs">25 Feb 07:00</text><text x="706" y="791.5" textLength="55" lengthAdjust="spacingAndGlyphs">25 Feb 15:00</text><text x="770" y="791.5" textLength="55" lengthAdjust="spacingAndGlyphs">26 Feb 01:00</text><text x="834" y="791.5" textLength="55" lengthAdjust="spacingAndGlyphs">26 Feb 09:00</text><text x="898" y="791.5" textLength="55" lengthAdjust="spacingAndGlyphs">26 Feb 17:00</text><text x="962" y="791.5" textLength="55" lengthAdjust="spacingAndGlyphs">27 Feb 03:00</text><text x="1026" y="791.5" textLength="55" lengthAdjust="spacingAndGlyphs">27 Feb 11:00</text><text x="1090" y="791.5" textLength="55" lengthAdjust="spacingAndGlyphs">27 Feb 19:00</text>
</g>
</svg>
</body></html>
